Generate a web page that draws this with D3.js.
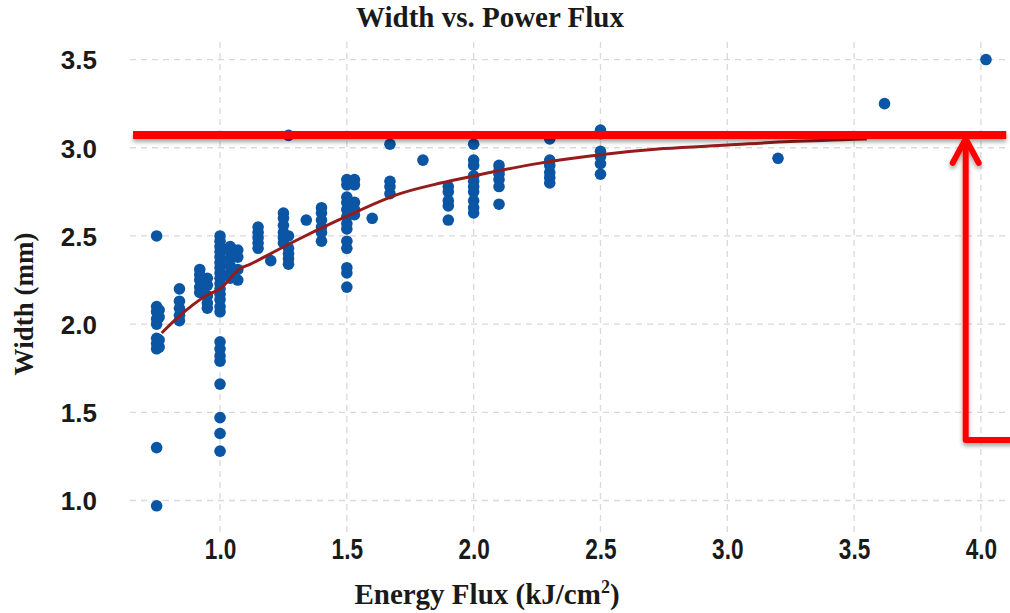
<!DOCTYPE html>
<html>
<head>
<meta charset="utf-8">
<script src="https://cdn.jsdelivr.net/npm/d3@7"></script>
<style>
  html, body { margin: 0; padding: 0; background: #fff; }
  svg { display: block; }
</style>
</head>
<body>
<svg id="chart" width="1010" height="613"></svg>
<script>
// ---- data ----
const chartTitle = "Width vs. Power Flux";
const xTitle = "Energy Flux (kJ/cm";
const yTitle = "Width (mm)";
const xTicks = [1.0, 1.5, 2.0, 2.5, 3.0, 3.5, 4.0];
const yTicks = [1.0, 1.5, 2.0, 2.5, 3.0, 3.5];

// energy flux levels and the widths measured at each
const fluxLevels = [0.75, 0.76, 0.84, 0.92, 0.95, 1.0, 1.04, 1.07, 1.15, 1.20, 1.25, 1.27, 1.34, 1.40, 1.50, 1.53, 1.60, 1.67, 1.80, 1.90, 2.00, 2.10, 2.30, 2.50, 3.20, 3.62, 4.02];
const widthsAtLevel = [
  [2.50, 2.10, 2.07, 2.03, 2.00, 1.92, 1.89, 1.86, 1.30, 0.97],
  [2.08, 2.04, 1.91, 1.87],
  [2.20, 2.13, 2.09, 2.05, 2.02],
  [2.31, 2.28, 2.25, 2.21, 2.18],
  [2.26, 2.22, 2.16, 2.12, 2.09],
  [2.50, 2.47, 2.44, 2.41, 2.38, 2.35, 2.32, 2.29, 2.26, 2.23, 2.20, 2.17, 2.14, 2.10, 2.07, 1.90, 1.86, 1.82, 1.79, 1.66, 1.47, 1.38, 1.28],
  [2.44, 2.41, 2.37, 2.33, 2.29, 2.26],
  [2.42, 2.38, 2.31, 2.25],
  [2.55, 2.52, 2.49, 2.46, 2.43],
  [2.36],
  [2.63, 2.60, 2.56, 2.52, 2.49, 2.46],
  [3.07, 2.50, 2.43, 2.40, 2.37, 2.34],
  [2.59],
  [2.66, 2.63, 2.59, 2.55, 2.52, 2.47],
  [2.82, 2.79, 2.72, 2.69, 2.65, 2.61, 2.57, 2.54, 2.47, 2.43, 2.32, 2.29, 2.21],
  [2.82, 2.79, 2.69, 2.65, 2.62],
  [2.60],
  [3.02, 2.81, 2.78, 2.74],
  [2.93],
  [2.78, 2.75, 2.70, 2.67, 2.59],
  [3.02, 2.93, 2.90, 2.84, 2.81, 2.78, 2.75, 2.70, 2.66, 2.63],
  [2.90, 2.87, 2.85, 2.82, 2.78, 2.68],
  [3.05, 2.93, 2.90, 2.86, 2.83, 2.80],
  [3.10, 3.08, 2.98, 2.95, 2.91, 2.85],
  [2.94],
  [3.25],
  [3.50]
];

// fitted trend line
const trendX = [0.77, 0.82, 0.95, 1.0, 1.08, 1.12, 1.2, 1.28, 1.5, 1.71, 1.87, 2.0, 2.25, 2.5, 2.75, 3.0, 3.25, 3.55];
const trendY = [1.95, 2.02, 2.165, 2.20, 2.315, 2.34, 2.40, 2.46, 2.612, 2.74, 2.80, 2.84, 2.91, 2.96, 2.995, 3.015, 3.035, 3.05];

// annotation (red limit line with arrow), in data units
const limitWidth = 3.072;
const limitFrom = 0.657, limitTo = 4.10;
const arrowFlux = 3.94, arrowBottom = 1.343, arrowTop = 3.05, arrowTail = 4.12;

// ---- drawing ----
const svg = d3.select("#chart");
const x = d3.scaleLinear().domain([0.645, 4.095]).range([130, 1005]);
const y = d3.scaleLinear().domain([0.8, 3.6]).range([535.8, 41.9]);

const defs = svg.append("defs");
const f = defs.append("filter").attr("id", "shadow").attr("x", "-5%").attr("y", "-100%").attr("width", "110%").attr("height", "400%");
f.append("feDropShadow").attr("dx", 0).attr("dy", 3).attr("stdDeviation", 2.2).attr("flood-color", "#000").attr("flood-opacity", 0.35);

// gridlines
const grid = svg.append("g");
grid.selectAll("line.h").data(yTicks).join("line")
  .attr("x1", x.range()[0]).attr("x2", x.range()[1])
  .attr("y1", d => y(d)).attr("y2", d => y(d))
  .attr("stroke", "#d9d9d9").attr("stroke-width", 1.3).attr("stroke-dasharray", "6,5");
grid.selectAll("line.v").data(xTicks).join("line")
  .attr("y1", y.range()[1]).attr("y2", y.range()[0] - 3)
  .attr("x1", d => x(d)).attr("x2", d => x(d))
  .attr("stroke", "#d9d9d9").attr("stroke-width", 1.3).attr("stroke-dasharray", "6,5");

// axes (labels only)
const yAxis = d3.axisLeft(y).tickValues(yTicks).tickFormat(d3.format(".1f")).tickSize(0).tickPadding(0);
const yg = svg.append("g").attr("transform", "translate(97,0)").call(yAxis);
yg.select(".domain").remove();
yg.selectAll("text").attr("font-family", "Liberation Sans, Arial, sans-serif")
  .attr("font-weight", "bold").attr("font-size", 26).attr("fill", "#1a1a1a").attr("dy", "0.36em");

const xAxis = d3.axisBottom(x).tickValues(xTicks).tickFormat(d3.format(".1f")).tickSize(0).tickPadding(0);
const xg = svg.append("g").attr("transform", "translate(0,536)").call(xAxis);
xg.select(".domain").remove();
xg.selectAll("text").attr("font-family", "'Liberation Sans', Arial, sans-serif")
  .attr("font-weight", "bold").attr("font-size", 29).attr("fill", "#1a1a1a").attr("dy", "0.8em")
  .attr("transform", "scale(0.78,1)");

// points
const pts = [];
fluxLevels.forEach((fx, i) => widthsAtLevel[i].forEach(w => pts.push([fx, w])));
svg.append("g").selectAll("circle").data(pts).join("circle")
  .attr("cx", d => x(d[0])).attr("cy", d => y(d[1])).attr("r", 5.8)
  .attr("fill", "#0b56a4");

// trend line
const trend = trendX.map((v, i) => [v, trendY[i]]);
svg.append("path").datum(trend)
  .attr("d", d3.line().x(d => x(d[0])).y(d => y(d[1])).curve(d3.curveMonotoneX))
  .attr("fill", "none").attr("stroke", "#961c1c").attr("stroke-width", 3);

// red annotation
const ann = svg.append("g").attr("filter", "url(#shadow)")
  .attr("fill", "none").attr("stroke", "#ff0000").attr("stroke-linecap", "round").attr("stroke-linejoin", "round");
ann.append("line").attr("x1", x(limitFrom)).attr("x2", x(limitTo))
  .attr("y1", y(limitWidth)).attr("y2", y(limitWidth)).attr("stroke-width", 8).attr("stroke-linecap", "butt");
ann.append("path")
  .attr("d", d3.line()([[x(arrowTail), y(arrowBottom)], [x(arrowFlux), y(arrowBottom)], [x(arrowFlux), y(arrowTop)]]))
  .attr("stroke-width", 6);
ann.append("path")
  .attr("d", d3.line()([[x(arrowFlux) - 13, y(arrowTop) + 24], [x(arrowFlux), y(arrowTop)], [x(arrowFlux) + 13, y(arrowTop) + 24]]))
  .attr("stroke-width", 6);

// titles
svg.append("text").attr("x", 490).attr("y", 27).attr("text-anchor", "middle")
  .attr("font-family", "'Liberation Serif', 'Times New Roman', serif").attr("font-weight", "bold")
  .attr("font-size", 29).attr("fill", "#1a1a1a").text(chartTitle);

const xt = svg.append("text").attr("x", 487).attr("y", 604).attr("text-anchor", "middle")
  .attr("font-family", "'Liberation Serif', 'Times New Roman', serif").attr("font-weight", "bold")
  .attr("font-size", 29).attr("fill", "#1a1a1a");
xt.append("tspan").text(xTitle);
xt.append("tspan").attr("font-size", 18).attr("dy", -11).text("2");
xt.append("tspan").attr("dy", 11).text(")");

svg.append("text").attr("transform", "translate(33,304) rotate(-90)").attr("text-anchor", "middle")
  .attr("font-family", "'Liberation Serif', 'Times New Roman', serif").attr("font-weight", "bold")
  .attr("font-size", 27).attr("fill", "#1a1a1a").text(yTitle);
</script>
</body>
</html>
